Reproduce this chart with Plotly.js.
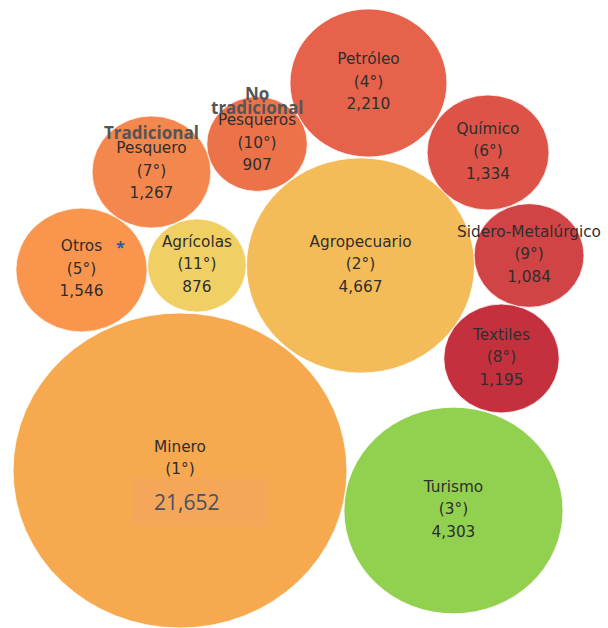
<!DOCTYPE html>
<html>
<head>
<meta charset="utf-8">
<script src="https://cdn.plot.ly/plotly-3.0.1.min.js"></script>
<style>html,body{margin:0;padding:0;background:#fff;}#chart{width:608px;height:628px;}</style>
</head>
<body>
<div id="chart"></div>
<script>
// ---- data ----
const sectors = ["Minero","Agropecuario","Turismo","Petróleo","Otros","Químico","Pesquero","Textiles","Sidero-Metalúrgico","Pesqueros","Agrícolas"];
const groupHeaders = ["","","","","","","Tradicional","","","No tradicional",""];
const ranks = [1,2,3,4,5,6,7,8,9,10,11];
const values = [21652,4667,4303,2210,1546,1334,1267,1195,1084,907,876];
// measure the bubble was sized with (Minero bubble is capped in the original)
const bubbleMeasure = [10000,4667,4303,2210,1546,1334,1267,1195,1084,907,876];
// packed-bubble centres (layout positions)
const centerX = [169.8,340.1,427.8,347.6,76.9,460.4,142.9,473.1,499.1,242.5,185.8];
const centerY = [470.5,265.5,510.5,83,270,152.5,172,358.5,255.5,144,265.5];
const colors = ["#F7A950","#F4BC59","#92D050","#E6624B","#F9954D","#DD5347","#F4874D","#C5303F","#D04446","#EC724A","#F0D064"];

// ---- styling constants ----
const radiusScale = 1.575;   // data units per sqrt(value)
const xStretch = 1.06;       // picture is slightly wider than tall
const lineGap = 22.5;
const textColor = "#2E2E2E";
const fontFam = "'DejaVu Sans', 'Noto Sans', sans-serif";
const boldFam = "'Open Sans', 'Noto Sans', sans-serif";

const shapes = [];
for (let i = 0; i < sectors.length; i++) {
  const r = radiusScale * Math.sqrt(bubbleMeasure[i]);
  shapes.push({type:"circle", xref:"x", yref:"y", layer:"below",
    x0:centerX[i]-r, x1:centerX[i]+r, y0:centerY[i]-r, y1:centerY[i]+r,
    fillcolor:colors[i], line:{color:"rgba(255,255,255,0.8)", width:1}});
}
// patched value box on Minero
shapes.push({type:"rect", xref:"x", yref:"y", layer:"above",
  x0:centerX[0]-44.5, x1:centerX[0]+83.5, y0:centerY[0]+7.5, y1:centerY[0]+55.5,
  fillcolor:"#F5A659", line:{width:0}});

const fmt = v => v.toLocaleString("en-US");
const mkText = (txt, dy) => ({
  type:"scatter", mode:"text", x:centerX, y:centerY.map(y=>y+dy), text:txt,
  textposition:"middle center", hoverinfo:"skip", showlegend:false,
  textfont:{family:fontFam, size:15.3, color:textColor}
});
const traces = [
  mkText(sectors, -lineGap),
  mkText(ranks.map(r=>"("+r+"°)"), 0),
  // Minero's value is shown in the patched box instead
  mkText(values.map((v,i)=> i===0 ? "" : fmt(v)), lineGap)
];

const annotations = [];
// Minero big value
annotations.push({x:centerX[0]+6, y:centerY[0]+31, xref:"x", yref:"y", text:fmt(values[0]),
  showarrow:false, font:{family:boldFam, size:21, color:"#4A5160"}});
// bold group headers
groupHeaders.forEach((h,i)=>{
  if(!h) return;
  const words = h.split(" ");
  if (words.length === 1) {
    annotations.push({x:centerX[i], y:centerY[i]-lineGap-17.5, xref:"x", yref:"y", text:"<b>"+h+"</b>",
      showarrow:false, font:{family:boldFam, size:17, color:"#555555"}});
  } else {
    annotations.push({x:centerX[i], y:centerY[i]-lineGap-28.5, xref:"x", yref:"y", text:"<b>"+words[0]+"</b>",
      showarrow:false, font:{family:boldFam, size:17, color:"#555555"}});
    annotations.push({x:centerX[i], y:centerY[i]-lineGap-14.5, xref:"x", yref:"y", text:"<b>"+words[1]+"</b>",
      showarrow:false, font:{family:boldFam, size:17, color:"#555555"}});
  }
});
// asterisk next to Otros
annotations.push({x:centerX[4]+37, y:centerY[4]-lineGap-1, xref:"x", yref:"y", text:"<b>*</b>",
  showarrow:false, font:{family:boldFam, size:16, color:"#1F5FA8"}});

const layout = {
  width:608, height:628, margin:{l:0,r:0,t:0,b:0},
  paper_bgcolor:"#ffffff", plot_bgcolor:"#ffffff",
  xaxis:{range:[0,608/xStretch], visible:false, fixedrange:true},
  yaxis:{range:[628,0], visible:false, fixedrange:true},
  shapes:shapes, annotations:annotations, showlegend:false
};
Plotly.newPlot("chart", traces, layout, {displayModeBar:false, staticPlot:true});
</script>
</body>
</html>
